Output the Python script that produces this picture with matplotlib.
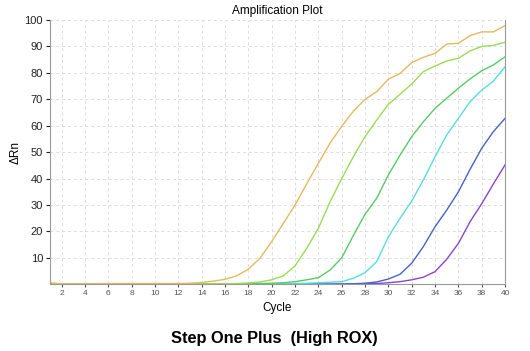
import numpy as np
from matplotlib import pyplot as plt

plt.rcParams['font.family'] = ['Liberation Sans', 'DejaVu Sans']

cycles = np.arange(1, 41)

orange = [0.4, 0.2, 0.2, 0.2, 0.2, 0.3, 0.3, 0.3, 0.3, 0.3, 0.3, 0.3, 0.4, 0.7, 1.2, 1.9, 3.2, 5.7, 9.9, 16.2,
          23.1, 30.0, 38.0, 45.8, 53.4, 59.8, 65.5, 70.0, 72.9, 77.6, 79.8, 83.9, 85.9, 87.4, 90.9, 91.2, 94.1,
          95.5, 95.5, 97.9]
light_green = [0.5, 0.2, 0.2, 0.2, 0.2, 0.2, 0.2, 0.2, 0.2, 0.2, 0.2, 0.2, 0.2, 0.2, 0.2, 0.2, 0.3, 0.5, 0.9,
               1.7, 3.2, 7.0, 13.6, 21.2, 31.2, 40.0, 48.3, 55.9, 62.2, 68.1, 71.9, 75.8, 80.5, 82.6, 84.5, 85.5,
               88.3, 90.0, 90.4, 91.6]
green = [0.3, 0.1, 0.1, 0.1, 0.1, 0.1, 0.1, 0.1, 0.1, 0.1, 0.1, 0.1, 0.1, 0.1, 0.1, 0.1, 0.1, 0.2, 0.3, 0.4,
         0.6, 1.0, 1.7, 2.5, 5.4, 10.0, 18.5, 26.5, 32.6, 41.4, 48.9, 55.9, 61.5, 66.6, 70.4, 74.2, 77.7, 80.8,
         83.0, 86.1]
cyan = [0.2, 0.1, 0.1, 0.1, 0.1, 0.1, 0.1, 0.1, 0.1, 0.1, 0.1, 0.1, 0.1, 0.1, 0.1, 0.1, 0.1, 0.1, 0.1, 0.2,
        0.2, 0.3, 0.4, 0.6, 0.8, 1.0, 2.3, 4.4, 8.6, 18.0, 25.0, 31.5, 39.5, 48.3, 56.5, 62.8, 69.1, 73.5,
        76.9, 82.3]
blue = [0.1, 0.0, 0.0, 0.0, 0.0, 0.0, 0.0, 0.0, 0.0, 0.0, 0.0, 0.0, 0.0, 0.0, 0.0, 0.0, 0.0, 0.0, 0.0, 0.0,
        0.0, 0.0, 0.1, 0.1, 0.1, 0.1, 0.2, 0.4, 0.9, 2.0, 3.8, 8.0, 14.3, 21.8, 28.1, 35.0, 43.5, 51.5, 57.8,
        62.8]
purple = [0.1, 0.0, 0.0, 0.0, 0.0, 0.0, 0.0, 0.0, 0.0, 0.0, 0.0, 0.0, 0.0, 0.0, 0.0, 0.0, 0.0, 0.0, 0.0, 0.0,
          0.0, 0.0, 0.0, 0.0, 0.0, 0.1, 0.1, 0.2, 0.3, 0.6, 1.0, 1.7, 2.7, 4.8, 9.5, 15.5, 23.7, 30.5, 38.0,
          45.2]

series = [(purple, "#8E44CC"), (blue, "#4464C8"), (cyan, "#55DDE0"),
          (green, "#55CC66"), (light_green, "#99DD55"), (orange, "#E8B860")]

x_ticks = np.arange(2, 41, 2)
y_ticks = np.arange(10, 101, 10)

fig = plt.figure(figsize=(5.3, 3.51), dpi=100)
ax = fig.add_axes([0.0943, 0.19, 0.8587, 0.753])

for vals, col in series:
    ax.plot(cycles, vals, color=col, lw=1.0)

ax.set_xlim(1, 40)
ax.set_ylim(0, 100)
ax.set_xticks(x_ticks)
ax.set_yticks(y_ticks)
ax.tick_params(axis='x', labelsize=6, colors="#555555", length=2, pad=2)
ax.tick_params(axis='y', labelsize=8, colors="#222222", length=3, pad=2)
ax.grid(True, color="#dddddd", ls=(0, (3, 3)), lw=0.7)
for s in ["left", "bottom", "right"]:
    ax.spines[s].set_color("#999999")
ax.spines["top"].set_visible(False)

ax.set_title("Amplification Plot", fontsize=8.5, pad=4)
ax.set_xlabel("Cycle", fontsize=8.5, labelpad=4)
ax.set_ylabel("ΔRn", fontsize=8.5, labelpad=2)

fig.text(0.518, 0.037, "Step One Plus  (High ROX)", ha="center", va="center",
         fontsize=11.8, fontweight="bold")

fig.savefig("out.png", dpi=100)
